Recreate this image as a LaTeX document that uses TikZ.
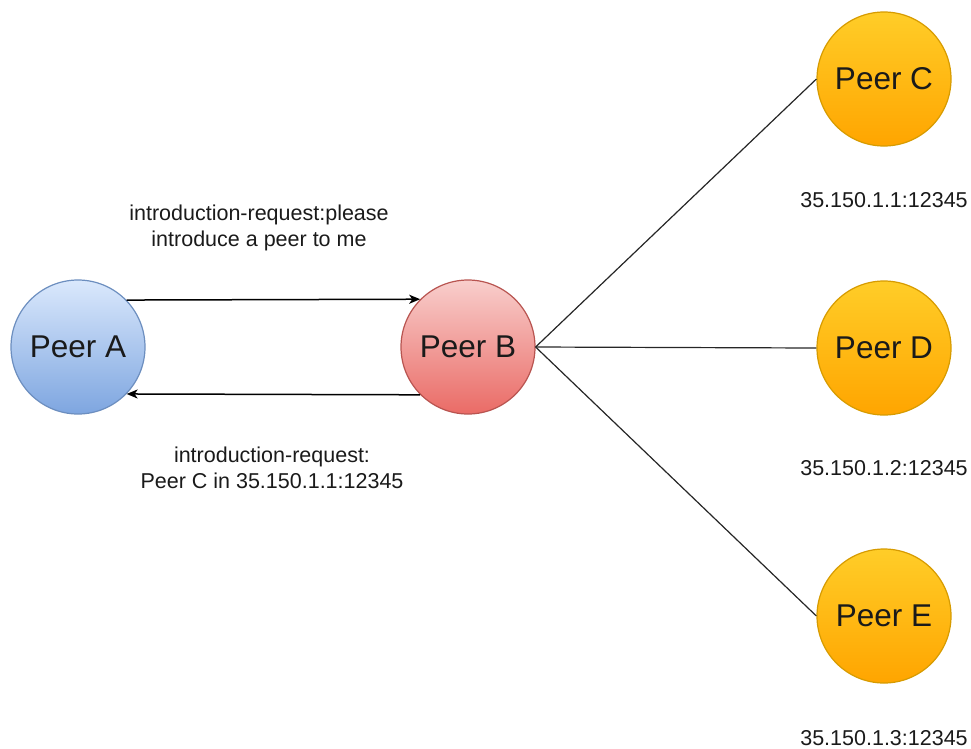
\documentclass[tikz,border=0pt]{standalone}
\usepackage{fontspec}
\setmainfont{Liberation Sans}
\usetikzlibrary{arrows.meta}
\definecolor{blueTop}{HTML}{DAE8FC}
\definecolor{blueBot}{HTML}{7EA6E0}
\definecolor{blueLine}{HTML}{6C8EBF}
\definecolor{redTop}{HTML}{F8CECC}
\definecolor{redBot}{HTML}{EA6B66}
\definecolor{redLine}{HTML}{B85450}
\definecolor{orTop}{HTML}{FFCD28}
\definecolor{orBot}{HTML}{FFA500}
\definecolor{orLine}{HTML}{D79B00}
\definecolor{txt}{HTML}{1A1A1A}
\tikzset{
  peer/.style={circle, minimum size=134pt, inner sep=0pt, line width=1.2pt,
    font=\fontsize{31.5}{37}\selectfont, text=txt},
  bluepeer/.style={peer, draw=blueLine, top color=blueTop, bottom color=blueBot},
  redpeer/.style={peer, draw=redLine, top color=redTop, bottom color=redBot},
  orpeer/.style={peer, draw=orLine, top color=orTop, bottom color=orBot},
  lbl/.style={font=\fontsize{21.5}{26}\selectfont, align=center, text=txt, inner sep=0pt},
  msg/.style={line width=1.5pt, -{Stealth[length=11pt,width=9pt,inset=3pt]}},
  link/.style={line width=1.2pt, draw=black!85}
}
\begin{document}
\begin{tikzpicture}[x=1pt,y=-1pt]
\path[use as bounding box] (0,0) rectangle (971,748);
\node[bluepeer] (A) at (78,347) {Peer A};
\node[redpeer]  (B) at (468,347) {Peer B};
\node[orpeer]   (C) at (884,79) {Peer C};
\node[orpeer]   (D) at (884,348) {Peer D};
\node[orpeer]   (E) at (884,616) {Peer E};

\draw[msg] (A.44.5) -- (B.135.5);
\draw[msg] (B.-135.5) -- (A.-44.5);

\draw[link] (B.east) -- (C.west);
\draw[link] (B.east) -- (D.west);
\draw[link] (B.east) -- (E.west);

\node[lbl] (m1) at (259,228) {introduction-request:please\\introduce a peer to me};
\node[lbl] (m2) at (272,468) {introduction-request:\\Peer C in 35.150.1.1:12345};
\node[lbl] (ipC) at (884,200) {35.150.1.1:12345};
\node[lbl] (ipD) at (884,468) {35.150.1.2:12345};
\node[lbl] (ipE) at (884,738) {35.150.1.3:12345};
\end{tikzpicture}
\end{document}
